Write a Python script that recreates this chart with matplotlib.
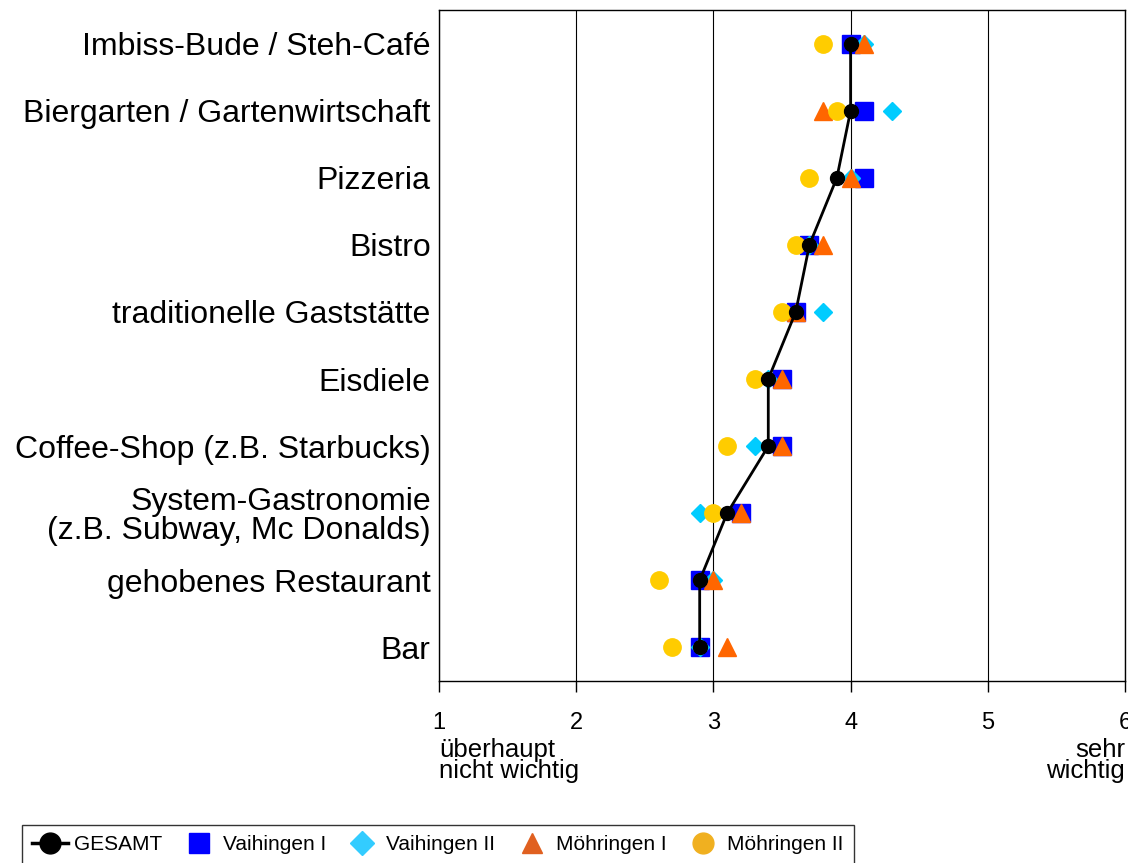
import matplotlib.pyplot as plt
from matplotlib.lines import Line2D

plt.rcParams['font.family'] = ['Liberation Sans', 'DejaVu Sans']

categories = ['Imbiss-Bude / Steh-Café', 'Biergarten / Gartenwirtschaft', 'Pizzeria', 'Bistro',
              'traditionelle Gaststätte', 'Eisdiele', 'Coffee-Shop (z.B. Starbucks)',
              'System-Gastronomie\n(z.B. Subway, Mc Donalds)', 'gehobenes Restaurant', 'Bar']

gesamt = [4.0, 4.0, 3.9, 3.7, 3.6, 3.4, 3.4, 3.1, 2.9, 2.9]
vaihingen1 = [4.0, 4.1, 4.1, 3.7, 3.6, 3.5, 3.5, 3.2, 2.9, 2.9]
vaihingen2 = [4.1, 4.3, 4.0, 3.7, 3.8, 3.4, 3.3, 2.9, 3.0, 2.9]
moehringen1 = [4.1, 3.8, 4.0, 3.8, 3.6, 3.5, 3.5, 3.2, 3.0, 3.1]
moehringen2 = [3.8, 3.9, 3.7, 3.6, 3.5, 3.3, 3.1, 3.0, 2.6, 2.7]

xticks = [1, 2, 3, 4, 5, 6]

ypos = list(range(len(categories)))

fig = plt.figure(figsize=(11.28, 8.63), dpi=100)
ax = fig.add_axes([439 / 1128, 1 - 681 / 863, (1125 - 439) / 1128, (681 - 10) / 863])

ax.plot(vaihingen1, ypos, linestyle='none', marker='s', color='#0000FF', markersize=13, zorder=3)
ax.plot(vaihingen2, ypos, linestyle='none', marker='D', color='#00CCFF', markersize=9.5, zorder=4)
ax.plot(moehringen1, ypos, linestyle='none', marker='^', color='#FF6600', markersize=13, zorder=5)
ax.plot(moehringen2, ypos, linestyle='none', marker='o', color='#FFCC00', markersize=12.5, zorder=6)
ax.plot(gesamt, ypos, color='black', marker='o', markersize=10, linewidth=2, zorder=7)

ax.set_xlim(1, 6)
ax.set_ylim(len(categories) - 0.5, -0.5)
ax.set_yticks(ypos)
ax.set_yticklabels(categories, fontsize=23, linespacing=0.95)
ax.tick_params(axis='y', length=0, pad=6)
ax.set_xticks(xticks)
ax.set_xticklabels([str(t) for t in xticks], fontsize=17)
ax.tick_params(axis='x', direction='out', length=8, width=1, pad=14)
ax.grid(True, axis='x', color='black', linewidth=0.8)
for s in ax.spines.values():
    s.set_linewidth(1)

ax.text(0, -0.085, 'überhaupt\nnicht wichtig', transform=ax.transAxes, ha='left', va='top',
        fontsize=18.5, linespacing=0.85)
ax.text(1, -0.085, 'sehr\nwichtig', transform=ax.transAxes, ha='right', va='top',
        fontsize=18.5, linespacing=0.85, multialignment='right')

handles = [
    Line2D([], [], color='black', marker='o', markersize=15, linewidth=2.5),
    Line2D([], [], color='#0000FF', marker='s', markersize=14, linestyle='none'),
    Line2D([], [], color='#33CCFF', marker='D', markersize=12, linestyle='none'),
    Line2D([], [], color='#E06020', marker='^', markersize=15, linestyle='none'),
    Line2D([], [], color='#F0B020', marker='o', markersize=15, linestyle='none'),
]
labels = ['GESAMT', 'Vaihingen I', 'Vaihingen II', 'Möhringen I', 'Möhringen II']
leg = fig.legend(handles, labels, loc='upper left', bbox_to_anchor=(22 / 1128, 1 - 825 / 863),
                 ncol=5, fontsize=15, frameon=True, fancybox=False, edgecolor='black',
                 handlelength=1.7, handletextpad=0.3, columnspacing=0.9, borderpad=0.5,
                 borderaxespad=0)
leg.get_frame().set_linewidth(1)

fig.savefig('out.png', dpi=100)
